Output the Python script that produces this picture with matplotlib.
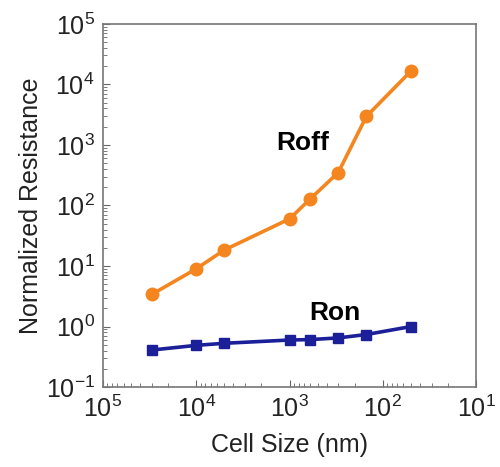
import matplotlib
matplotlib.use("Agg")
import matplotlib.pyplot as plt
from matplotlib.ticker import LogLocator, NullFormatter

plt.rcParams['font.family'] = ['Liberation Sans', 'DejaVu Sans']
plt.rcParams['mathtext.fontset'] = 'custom'
plt.rcParams['mathtext.rm'] = 'Liberation Sans'
plt.rcParams['mathtext.it'] = 'Liberation Sans'
plt.rcParams['axes.unicode_minus'] = False

# cell size (nm) and normalized resistances
cell_size = [30000, 10000, 5000, 1000, 600, 300, 150, 50]
roff = [3.4, 9.0, 18.4, 60, 128, 350, 2950, 16500]
ron = [0.41, 0.49, 0.53, 0.60, 0.61, 0.65, 0.74, 1.0]

fig = plt.figure(figsize=(5, 4.67), dpi=100)
ax = fig.add_axes([0.206, 0.171, 0.746, 0.778])

ax.plot(cell_size, roff, color='#F5851F', lw=2.6, marker='o', ms=9)
ax.plot(cell_size, ron, color='#1B1F98', lw=2.6, marker='s', ms=7)

ax.set_xscale('log')
ax.set_yscale('log')
ax.set_xlim(1e5, 1e1)
ax.set_ylim(1e-1, 1e5)

ax.xaxis.set_major_locator(LogLocator(base=10, numticks=10))
ax.yaxis.set_major_locator(LogLocator(base=10, numticks=10))
ax.xaxis.set_minor_locator(LogLocator(base=10, subs=range(2, 10), numticks=10))
ax.yaxis.set_minor_locator(LogLocator(base=10, subs=range(2, 10), numticks=10))
ax.xaxis.set_minor_formatter(NullFormatter())
ax.yaxis.set_minor_formatter(NullFormatter())

ax.tick_params(which='both', direction='in', colors='#666666', labelcolor='#222222')
ax.tick_params(which='major', length=5, labelsize=18, pad=6)
ax.tick_params(which='minor', length=3)
for s in ax.spines.values():
    s.set_color('#777777')
    s.set_linewidth(1.2)

ax.set_xlabel('Cell Size (nm)', fontsize=18, color='#222222', labelpad=8)
ax.set_ylabel('Normalized Resistance', fontsize=18, color='#222222', labelpad=2)

ax.text(1400, 1070, 'Roff', fontsize=19, fontweight='bold', ha='left', va='center')
ax.text(620, 1.67, 'Ron', fontsize=19, fontweight='bold', ha='left', va='center')

fig.savefig('out.png', dpi=100)
